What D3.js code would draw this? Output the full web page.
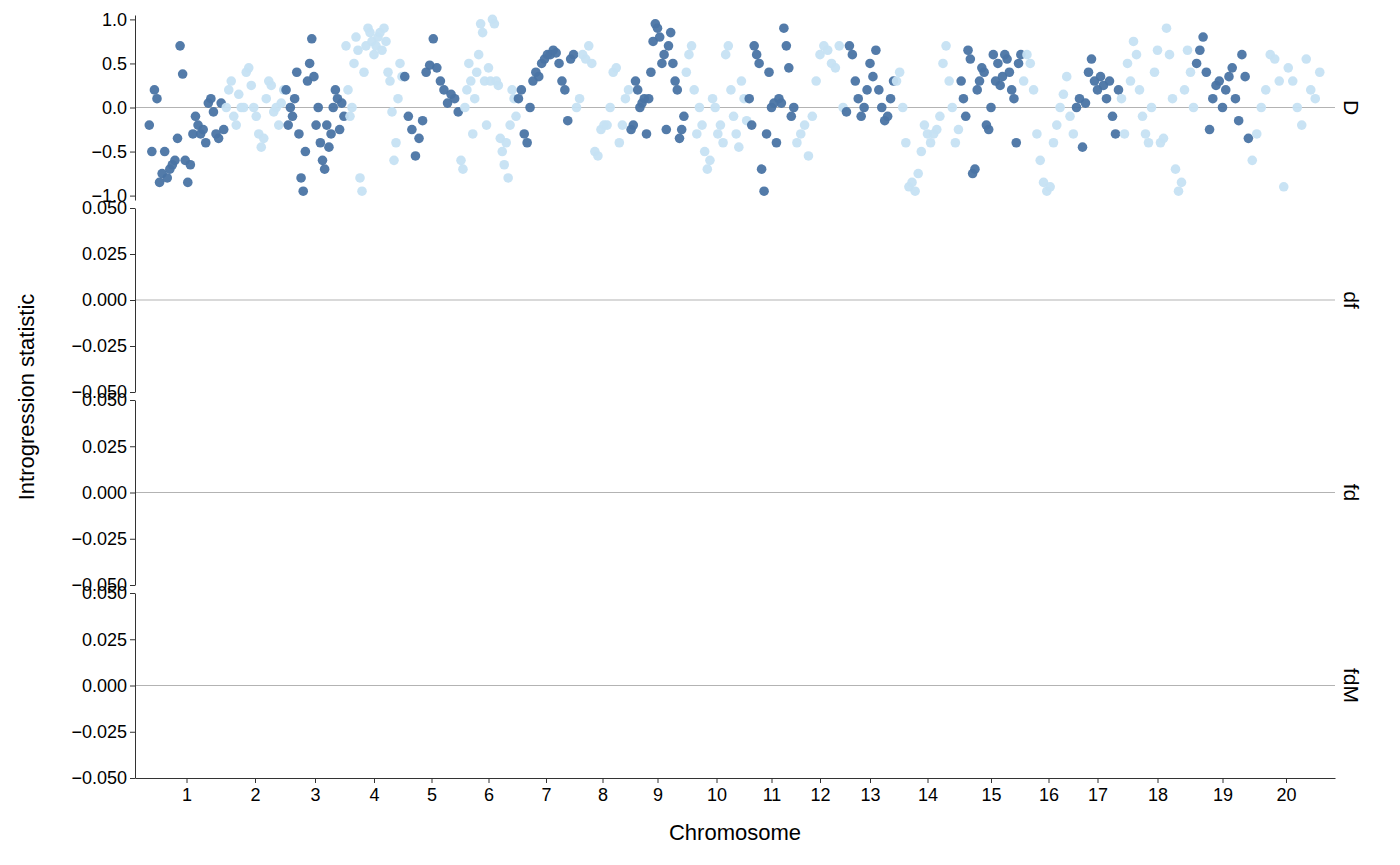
<!DOCTYPE html>
<html><head><meta charset="utf-8">
<script src="https://cdn.jsdelivr.net/npm/d3@7"></script>
<style>body{margin:0;background:#fff}text{font-family:"Liberation Sans",Arial,sans-serif}</style>
</head><body><svg id="c" width="1400" height="865"></svg>
<script>
const chromosomes=["1","2","3","4","5","6","7","8","9","10","11","12","13","14","15","16","17","18","19","20"];
const chromLengths=[77,60,60,58,57,57,58,55,55,63,47,50,50,65,62,53,45,75,55,72];
const dValues=[
[-0.2,-0.5,0.2,0.1,-0.85,-0.75,-0.5,-0.8,-0.7,-0.65,-0.6,-0.35,0.7,0.38,-0.6,-0.85,-0.65,-0.3,-0.1,-0.2,-0.3,-0.25,-0.4,0.05,0.1,-0.05,-0.3,-0.35,0.05,-0.25],
[0.0,0.2,0.3,-0.1,-0.2,0.15,0.0,0.0,0.4,0.45,0.25,0.0,-0.1,-0.3,-0.45,-0.35,0.1,0.3,0.25,-0.05,0.0,-0.2,0.05,0.2],
[0.2,-0.2,0.0,-0.1,0.1,0.4,-0.3,-0.8,-0.95,-0.5,0.3,0.5,0.78,0.35,-0.2,0.0,-0.4,-0.6,-0.7,-0.2,-0.45,-0.3,0.0,0.2,0.1,-0.25,0.05,-0.1],
[0.7,0.2,-0.1,0.0,0.5,0.8,0.65,-0.8,-0.95,0.4,0.7,0.9,0.85,0.75,0.6,0.7,0.8,0.85,0.65,0.9,0.75,0.4,0.3,-0.05,-0.6,-0.4,0.1,0.5,0.35],
[0.35,-0.1,-0.25,-0.55,-0.35,-0.15,0.4,0.48,0.78,0.45,0.3,0.2,0.05,0.15,0.1,-0.05],
[-0.6,-0.7,0.0,0.2,0.5,0.3,-0.3,0.1,0.4,0.6,0.95,0.85,0.3,-0.2,0.45,0.3,1.0,0.95,0.3,0.25,-0.35,-0.5,-0.65,-0.4,-0.8,-0.2,0.2,0.1,-0.1],
[0.1,0.2,-0.3,-0.4,0.0,0.3,0.4,0.35,0.5,0.55,0.6,0.6,0.65,0.62,0.5,0.3,0.2,-0.15,0.55,0.6],
[0.0,0.1,0.6,0.55,0.7,0.5,-0.5,-0.55,-0.25,-0.2,-0.2,0.0,0.4,0.45,-0.4,-0.2,0.1,0.2],
[-0.25,-0.2,0.3,0.2,0.0,0.05,0.1,-0.3,0.1,0.4,0.75,0.95,0.9,0.8,0.5,0.6,-0.25,0.7,0.85,0.5,0.3,0.2,-0.35,-0.25,-0.1],
[0.4,0.6,0.7,0.2,-0.3,0.0,-0.2,-0.5,-0.7,-0.6,0.1,0.0,-0.3,-0.2,-0.4,0.6,0.7,0.2,-0.1,-0.3,-0.45,0.3,0.1,-0.15],
[0.1,-0.2,0.7,0.6,0.5,-0.7,-0.95,-0.3,0.4,0.0,0.05,-0.4,0.1,0.05,0.9,0.7,0.45,-0.1,0.0],
[-0.4,-0.3,-0.2,-0.55,-0.1,0.3,0.6,0.7,0.65,0.5,0.45,0.7,0.0],
[-0.05,0.7,0.6,0.3,0.1,-0.1,0.0,0.2,0.5,0.35,0.65,0.2,0.0,-0.15,-0.1,0.1,0.3],
[0.3,0.4,0.0,-0.4,-0.9,-0.85,-0.95,-0.75,-0.5,-0.2,-0.3,-0.4,-0.3,-0.25,-0.1,0.5,0.7,0.3,0.0,-0.4,-0.25],
[0.3,0.1,-0.1,0.65,0.55,-0.75,-0.7,0.2,0.3,0.45,0.4,-0.2,-0.25,0.0,0.6,0.3,0.5,0.25,0.35,0.6,0.55,0.4,0.2,0.1,-0.4,0.5,0.6],
[0.3,0.6,0.5,0.2,-0.3,-0.6,-0.85,-0.95,-0.9,-0.4,-0.2,0.0,0.15,0.35,-0.1,-0.3],
[0.0,0.1,-0.45,0.05,0.4,0.55,0.3,0.2,0.35,0.25,0.1,0.3,-0.1,-0.3,0.2],
[0.1,-0.3,0.5,0.3,0.75,0.6,0.2,-0.1,-0.3,-0.4,0.0,0.4,0.65,-0.4,-0.35,0.9,0.6,0.1,-0.7,-0.95,-0.85,0.2,0.65,0.4,0.0],
[0.5,0.65,0.8,0.4,-0.25,0.1,0.25,0.3,0.0,0.2,0.35,0.45,0.1,-0.15,0.6,0.35,-0.35],
[-0.6,-0.3,0.0,0.2,0.6,0.55,0.3,-0.9,0.45,0.3,0.0,-0.2,0.55,0.2,0.1,0.4]];
const panels=["D","df","fd","fdM"];
const dTicks=[-1,-0.5,0,0.5,1];
const fTicks=[-0.05,-0.025,0,0.025,0.05];

const svg=d3.select("#c");
const L=135,R=1335;
const starts=[];let acc=0;chromLengths.forEach(l=>{starts.push(acc);acc+=l;});
const x=d3.scaleLinear().domain([-13,acc+13]).range([L,R]);
const pts=[];
dValues.forEach((vals,ci)=>vals.forEach((v,i)=>pts.push({p:starts[ci]+(i+0.5)/vals.length*chromLengths[ci],v,ci})));
const bands=[[15,200],[208,392],[400,585],[593,778]];
panels.forEach((name,k)=>{
  const [t,b]=bands[k];
  const y=k===0?d3.scaleLinear().domain([-1.05,1.05]).range([200,15]):d3.scaleLinear().domain([-0.05,0.05]).range([b,t]);
  const g=svg.append("g");
  g.append("line").attr("x1",L).attr("x2",R).attr("y1",y(0)).attr("y2",y(0)).attr("stroke","#b3b3b3").attr("stroke-width",1.2);
  const ax=g.append("g").attr("transform",`translate(${L},0)`).call(d3.axisLeft(y).tickValues(k===0?dTicks:fTicks).tickFormat(k===0?d3.format(".1f"):d3.format(".3f")).tickSize(5).tickSizeOuter(0));
  ax.selectAll("text").attr("font-size",18).attr("fill","#000");
  ax.select(".domain").attr("stroke","#333");ax.selectAll(".tick line").attr("stroke","#333");
  g.append("text").attr("transform",`translate(1350,${(t+b)/2}) rotate(90)`).attr("text-anchor","middle").attr("dominant-baseline","middle").attr("font-size",21).text(name);
  if(k===0){
    g.selectAll("circle").data(pts).join("circle").attr("cx",d=>x(d.p)).attr("cy",d=>y(d.v)).attr("r",4.8)
     .attr("fill",d=>d.ci%2===0?"#4a74a4":"#c6e2f3").attr("opacity",0.95);
  }
});
const xa=svg.append("g").attr("transform","translate(0,778)").call(d3.axisBottom(x).tickValues(starts.map((s,i)=>s+chromLengths[i]/2)).tickFormat((d,i)=>chromosomes[i]).tickSize(5).tickSizeOuter(0));
xa.selectAll("text").attr("font-size",18).attr("fill","#000").attr("dy","0.85em");
xa.select(".domain").attr("stroke","#333");xa.selectAll(".tick line").attr("stroke","#333");
svg.append("text").attr("x",(L+R)/2).attr("y",840).attr("text-anchor","middle").attr("font-size",22).text("Chromosome");
svg.append("text").attr("transform","translate(34,397) rotate(-90)").attr("text-anchor","middle").attr("font-size",22).text("Introgression statistic");
</script></body></html>
